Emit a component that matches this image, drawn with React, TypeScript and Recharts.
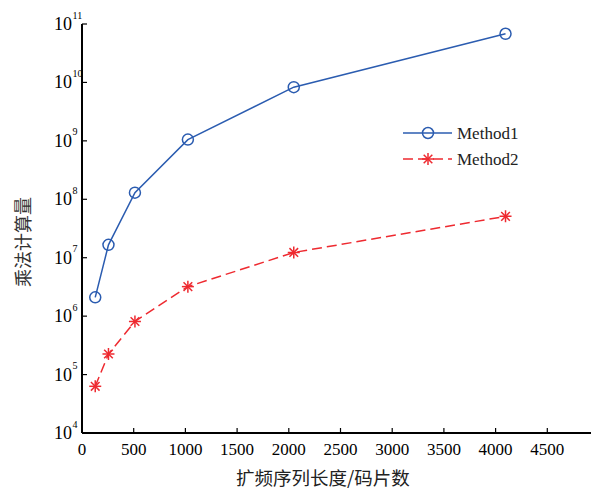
import { Line, LineChart, XAxis, YAxis } from 'recharts';

const codeLengths = [128, 256, 512, 1024, 2048, 4096];
const method1 = [2.1e6, 1.66e7, 1.3e8, 1.05e9, 8.3e9, 6.8e10];
const method2 = [6.3e4, 2.25e5, 8.1e5, 3.2e6, 1.23e7, 5.1e7];
const xTicks = [0, 500, 1000, 1500, 2000, 2500, 3000, 3500, 4000, 4500];
const yTicks = [1e4, 1e5, 1e6, 1e7, 1e8, 1e9, 1e10, 1e11];

const BLUE = '#2b5cb0';
const RED = '#ee2a30';
const SERIF = '"Liberation Serif", "Times New Roman", serif';
const CJK = '"Noto Sans CJK SC", sans-serif';

const data = codeLengths.map((n, i) => ({ n, m1: method1[i], m2: method2[i] }));

function Circle({ cx, cy }: { cx: number; cy: number }) {
  return <circle cx={cx} cy={cy} r={5.5} fill="none" stroke={BLUE} strokeWidth={1.5} />;
}

function Star({ cx, cy }: { cx: number; cy: number }) {
  const r = 6;
  const d = r * 0.72;
  return (
    <g stroke={RED} strokeWidth={1.5}>
      <line x1={cx - r} y1={cy} x2={cx + r} y2={cy} />
      <line x1={cx} y1={cy - r} x2={cx} y2={cy + r} />
      <line x1={cx - d} y1={cy - d} x2={cx + d} y2={cy + d} />
      <line x1={cx - d} y1={cy + d} x2={cx + d} y2={cy - d} />
    </g>
  );
}

function BottomTick(props: any) {
  const { x, y, payload } = props;
  return (
    <g>
      <line x1={x} y1={y} x2={x} y2={y - 5} stroke="#000" strokeWidth={1.2} />
      <text x={x} y={y + 22} textAnchor="middle" fontFamily={SERIF} fontSize={17} fill="#000">
        {payload.value}
      </text>
    </g>
  );
}

function TopTick(props: any) {
  const { x, y } = props;
  return <line x1={x} y1={y} x2={x} y2={y + 4} stroke="#000" strokeWidth={1.2} />;
}

function LeftTick(props: any) {
  const { x, y, payload } = props;
  const exp = Math.round(Math.log10(payload.value));
  return (
    <g>
      <line x1={x} y1={y} x2={x + 5} y2={y} stroke="#000" strokeWidth={1.2} />
      <text x={x - 10} y={y + 6} textAnchor="end" fontFamily={SERIF} fontSize={18} fill="#000">
        10
      </text>
      <text x={x - 9.5} y={y - 5.5} textAnchor="start" fontFamily={SERIF} fontSize={10} fill="#000">
        {exp}
      </text>
    </g>
  );
}

function LegendBox() {
  return (
    <svg width={150} height={50} style={{ display: 'block' }}>
      <line x1={0} y1={10} x2={49} y2={10} stroke={BLUE} strokeWidth={1.5} />
      <Circle cx={25} cy={10} />
      <text x={54} y={16} fontFamily={SERIF} fontSize={17} fill="#222">
        Method1
      </text>
      <line x1={0} y1={36} x2={49} y2={36} stroke={RED} strokeWidth={1.5} strokeDasharray="10 5" />
      <Star cx={25} cy={36} />
      <text x={54} y={42} fontFamily={SERIF} fontSize={17} fill="#222">
        Method2
      </text>
    </svg>
  );
}

export default function App() {
  return (
    <div style={{ position: 'relative', width: 591, height: 483 }}>
      <LineChart width={591} height={483} data={data} margin={{ top: 16, right: 0, bottom: 0, left: 0 }}>
        <XAxis
          type="number"
          dataKey="n"
          domain={[0, 5000]}
          ticks={xTicks}
          interval={0}
          height={58}
          tickSize={0}
          tickMargin={0}
          tickLine={false}
          axisLine={{ stroke: '#000', strokeWidth: 2 }}
          tick={<BottomTick />}
          label={{
            content: () => (
              <text x={315} y={477} textAnchor="middle" fontFamily={CJK} fontSize={18.5} fill="#222">
                扩频序列长度/码片数
              </text>
            ),
          }}
        />
        <XAxis
          xAxisId="top"
          orientation="top"
          type="number"
          dataKey="n"
          domain={[0, 5000]}
          ticks={xTicks}
          interval={0}
          height={0}
          tickSize={0}
          tickMargin={0}
          tickLine={false}
          axisLine={{ stroke: '#000', strokeWidth: 2 }}
          tick={<TopTick />}
        />
        <YAxis
          type="number"
          scale="log"
          domain={[1e4, 1e11]}
          allowDataOverflow
          ticks={yTicks}
          interval={0}
          width={74}
          tickSize={0}
          tickMargin={0}
          tickLine={false}
          axisLine={{ stroke: '#000', strokeWidth: 2 }}
          tick={<LeftTick />}
          label={{
            content: () => (
              <text
                x={14}
                y={234}
                transform="rotate(-90 14 234)"
                textAnchor="middle"
                dominantBaseline="central"
                fontFamily={CJK}
                fontSize={18}
                fill="#333"
              >
                乘法计算量
              </text>
            ),
          }}
        />
        <Line
          type="linear"
          dataKey="m1"
          name="Method1"
          stroke={BLUE}
          strokeWidth={1.5}
          dot={(p: any) => <Circle key={p.index} cx={p.cx} cy={p.cy} />}
          activeDot={false}
          isAnimationActive={false}
        />
        <Line
          type="linear"
          dataKey="m2"
          name="Method2"
          stroke={RED}
          strokeWidth={1.5}
          strokeDasharray="10 5"
          dot={(p: any) => <Star key={p.index} cx={p.cx} cy={p.cy} />}
          activeDot={false}
          isAnimationActive={false}
        />
      </LineChart>
      <div style={{ position: 'absolute', left: 395, top: 115 }}>
        <LegendBox />
      </div>
    </div>
  );
}
